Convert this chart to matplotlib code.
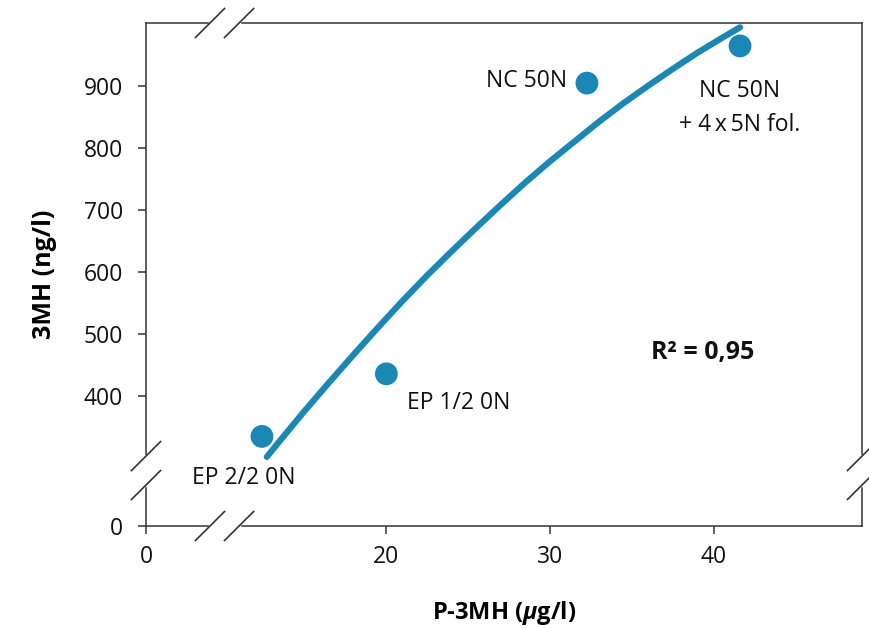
import numpy as np
import matplotlib
matplotlib.use('Agg')
from matplotlib import pyplot as plt

# data
labels = ['EP 2/2 0N', 'EP 1/2 0N', 'NC 50N', 'NC 50N\n+ 4\u2009x\u20095N fol.']
p3mh = [12.4, 20.0, 32.25, 41.6]
mh3 = [334, 435, 904, 964]

# fitted curve
curve_x = [12.7, 13.5, 15, 16.5, 18, 19.5, 21, 22.5, 24, 25.5, 27,
           28.5, 30, 31.5, 33, 34.5, 36, 37.5, 39, 40.5, 41.6]
curve_y = [301, 327, 375, 421, 466, 510, 553, 594, 633, 671, 708,
           744, 778, 810, 842, 872, 900, 927, 953, 977, 994]

x_ticks = [0, 20, 30, 40]
y_ticks = [0, 400, 500, 600, 700, 800, 900]

plt.rcParams['font.family'] = ['Open Sans', 'DejaVu Sans']
plt.rcParams['mathtext.fontset'] = 'custom'
plt.rcParams['mathtext.it'] = 'Open Sans:bold:italic'
plt.rcParams['mathtext.rm'] = 'Open Sans:bold'

blue = '#1a87b4'
dark = '#333333'
txt = '#111111'


# broken axes: compress the low part of each axis
def fx(x):
    x = np.asarray(x, float)
    return np.where(x < 10, 5.32 + 0.468 * x, x)


def fx_inv(p):
    p = np.asarray(p, float)
    return np.where(p < 10, (p - 5.32) / 0.468, p)


def fy(y):
    y = np.asarray(y, float)
    return np.where(y < 280, 189.5 + 0.3232 * y, y)


def fy_inv(p):
    p = np.asarray(p, float)
    return np.where(p < 280, (p - 189.5) / 0.3232, p)


fig = plt.figure(figsize=(8.7, 6.28), dpi=100)
ax = fig.add_axes([146 / 870, 1 - 526 / 628, 716 / 870, 503 / 628])
ax.set_xscale('function', functions=(fx, fx_inv))
ax.set_yscale('function', functions=(fy, fy_inv))
ax.set_xlim(0, 49.05)
ax.set_ylim(0, 1001)

ax.plot(curve_x, curve_y, color=blue, lw=4.5, solid_capstyle='round', zorder=3)
ax.scatter(p3mh, mh3, s=270, color=blue, edgecolors='none', zorder=4)

offsets = [(-13, -30), (15, -21), (-14, 1.5), (0, -44.5)]
aligns = ['center', 'left', 'right', 'center']
for lab, x, y, off, ha in zip(labels, p3mh, mh3, offsets, aligns):
    ax.annotate(lab, (x, y), xytext=off, textcoords='offset points',
                ha=ha, va='center', fontsize=16.5, color=txt,
                linespacing=1.55)

ax.text(703 / 870, 1 - 352 / 628, 'R\u00b2 = 0,95', transform=fig.transFigure,
        ha='center', va='center', fontsize=18, fontweight='bold', color=txt)

ax.set_xticks(x_ticks)
ax.set_yticks(y_ticks)
ax.set_xticklabels([str(t) for t in x_ticks])
ax.set_yticklabels([str(t) for t in y_ticks])
ax.minorticks_off()
ax.tick_params(direction='out', length=5.5, width=1.1, color=dark,
               labelsize=16.5, labelcolor=txt)
ax.tick_params(axis='x', pad=8.5)
ax.tick_params(axis='y', pad=11)
for s in ax.spines.values():
    s.set_color(dark)
    s.set_linewidth(1.1)

ax.set_xlabel(r'P-3MH ($\mu$g/l)', fontsize=17, fontweight='bold', labelpad=21)
ax.set_ylabel('3MH (ng/l)', fontsize=18, fontweight='bold', labelpad=19)

# break marks on the four spines
bx = [0.0894, 0.130]
by = [0.0815, 0.139]
dx, dy = 0.0203, 0.0288
kw = dict(transform=ax.transAxes, clip_on=False, zorder=6)
for yy in [0, 1]:
    ax.plot(bx, [yy, yy], color='white', lw=2.5, **kw)
    for c in bx:
        ax.plot([c - dx, c + dx], [yy - dy, yy + dy], color=dark, lw=1.2, **kw)
for xx in [0, 1]:
    ax.plot([xx, xx], by, color='white', lw=2.5, **kw)
    for c in by:
        ax.plot([xx - dx, xx + dx], [c - dy, c + dy], color=dark, lw=1.2, **kw)

plt.savefig('out.png', dpi=100)
